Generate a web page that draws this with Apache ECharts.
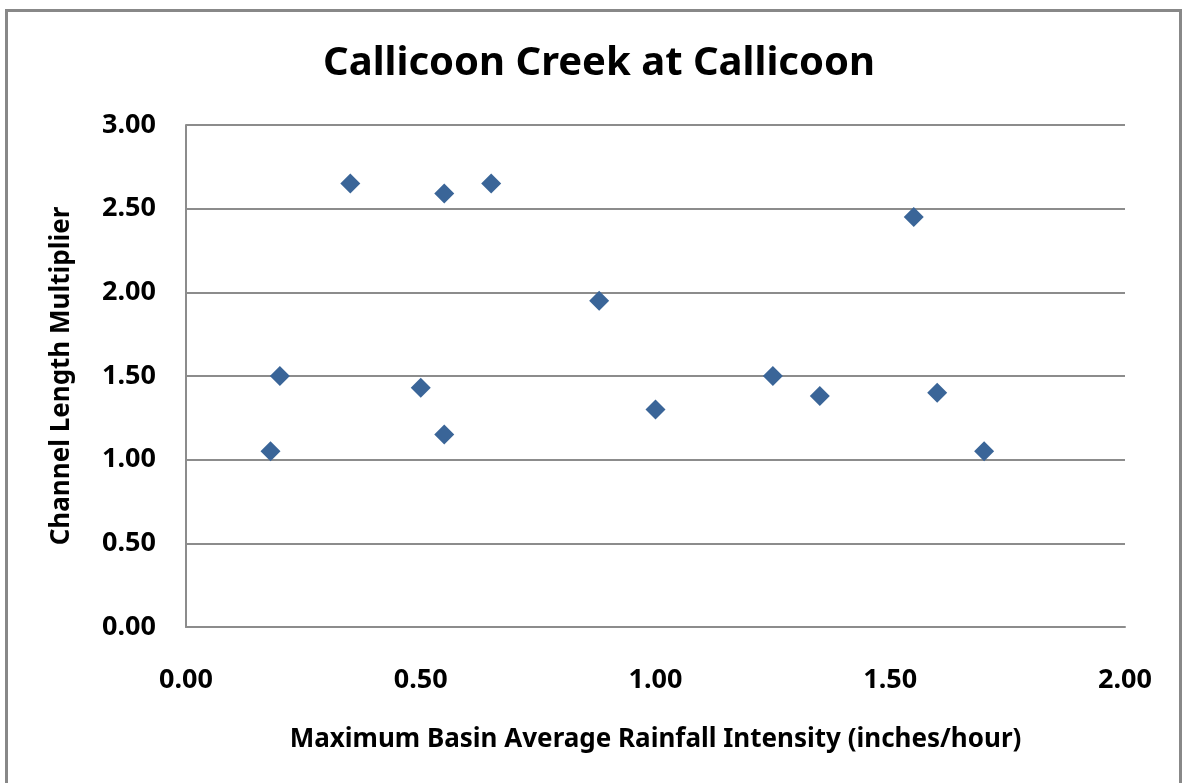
<!DOCTYPE html>
<html>
<head>
<meta charset="utf-8">
<script src="https://cdn.jsdelivr.net/npm/echarts@6/dist/echarts.min.js"></script>
<style>
  html, body { margin: 0; padding: 0; background: #fff; }
  #chart { width: 1183px; height: 783px; }
</style>
</head>
<body>
<div id="chart"></div>
<script>
// rainfall intensity (in/hr) vs channel length multiplier
var rainfall = [0.18, 0.20, 0.35, 0.50, 0.55, 0.55, 0.65, 0.88, 1.00, 1.25, 1.35, 1.55, 1.60, 1.70];
var multiplier = [1.05, 1.50, 2.65, 1.43, 2.59, 1.15, 2.65, 1.95, 1.30, 1.50, 1.38, 2.45, 1.40, 1.05];

var points = [];
for (var i = 0; i < rainfall.length; i++) {
  points.push([rainfall[i], multiplier[i]]);
}

var chart = echarts.init(document.getElementById('chart'), null, { renderer: 'canvas' });

var labelFont = {
  color: '#000',
  fontFamily: 'Noto Sans',
  fontWeight: 'bold',
  fontSize: 27
};

var option = {
  backgroundColor: '#fff',
  animation: false,
  graphic: [{
    type: 'rect',
    shape: { x: 6.5, y: 10.5, width: 1174, height: 800 },
    style: { fill: 'none', stroke: '#888', lineWidth: 3 },
    silent: true
  }],
  title: {
    text: 'Callicoon Creek at Callicoon',
    left: 594,
    textAlign: 'center',
    top: 39,
    textStyle: {
      color: '#000',
      fontFamily: 'Noto Sans',
      fontWeight: 'bold',
      fontSize: 40
    }
  },
  grid: {
    left: 186,
    right: 58,
    top: 125,
    bottom: 156,
    containLabel: false
  },
  xAxis: {
    type: 'value',
    min: 0,
    max: 2,
    interval: 0.5,
    name: 'Maximum Basin Average Rainfall Intensity (inches/hour)',
    nameLocation: 'middle',
    nameGap: 100,
    nameTextStyle: { color: '#000', fontFamily: 'Noto Sans', fontWeight: 'bold', fontSize: 26 },
    axisLine: { show: true, lineStyle: { color: '#8c8c8c', width: 2 } },
    axisTick: { show: false },
    splitLine: { show: false },
    axisLabel: Object.assign({
      margin: 40,
      formatter: function (v) { return v.toFixed(2); }
    }, labelFont)
  },
  yAxis: {
    type: 'value',
    min: 0,
    max: 3,
    interval: 0.5,
    name: 'Channel Length Multiplier',
    nameLocation: 'middle',
    nameGap: 111,
    nameTextStyle: { color: '#000', fontFamily: 'Noto Sans', fontWeight: 'bold', fontSize: 26 },
    axisLine: { show: true, lineStyle: { color: '#8c8c8c', width: 2 } },
    axisTick: { show: false },
    splitLine: { show: true, lineStyle: { color: '#8c8c8c', width: 2 } },
    axisLabel: Object.assign({
      margin: 30,
      formatter: function (v) { return v.toFixed(2); }
    }, labelFont)
  },
  series: [{
    type: 'scatter',
    data: points,
    symbol: 'diamond',
    symbolSize: [20, 20],
    itemStyle: { color: '#3a6598', opacity: 1 }
  }]
};

chart.setOption(option);
</script>
</body>
</html>
